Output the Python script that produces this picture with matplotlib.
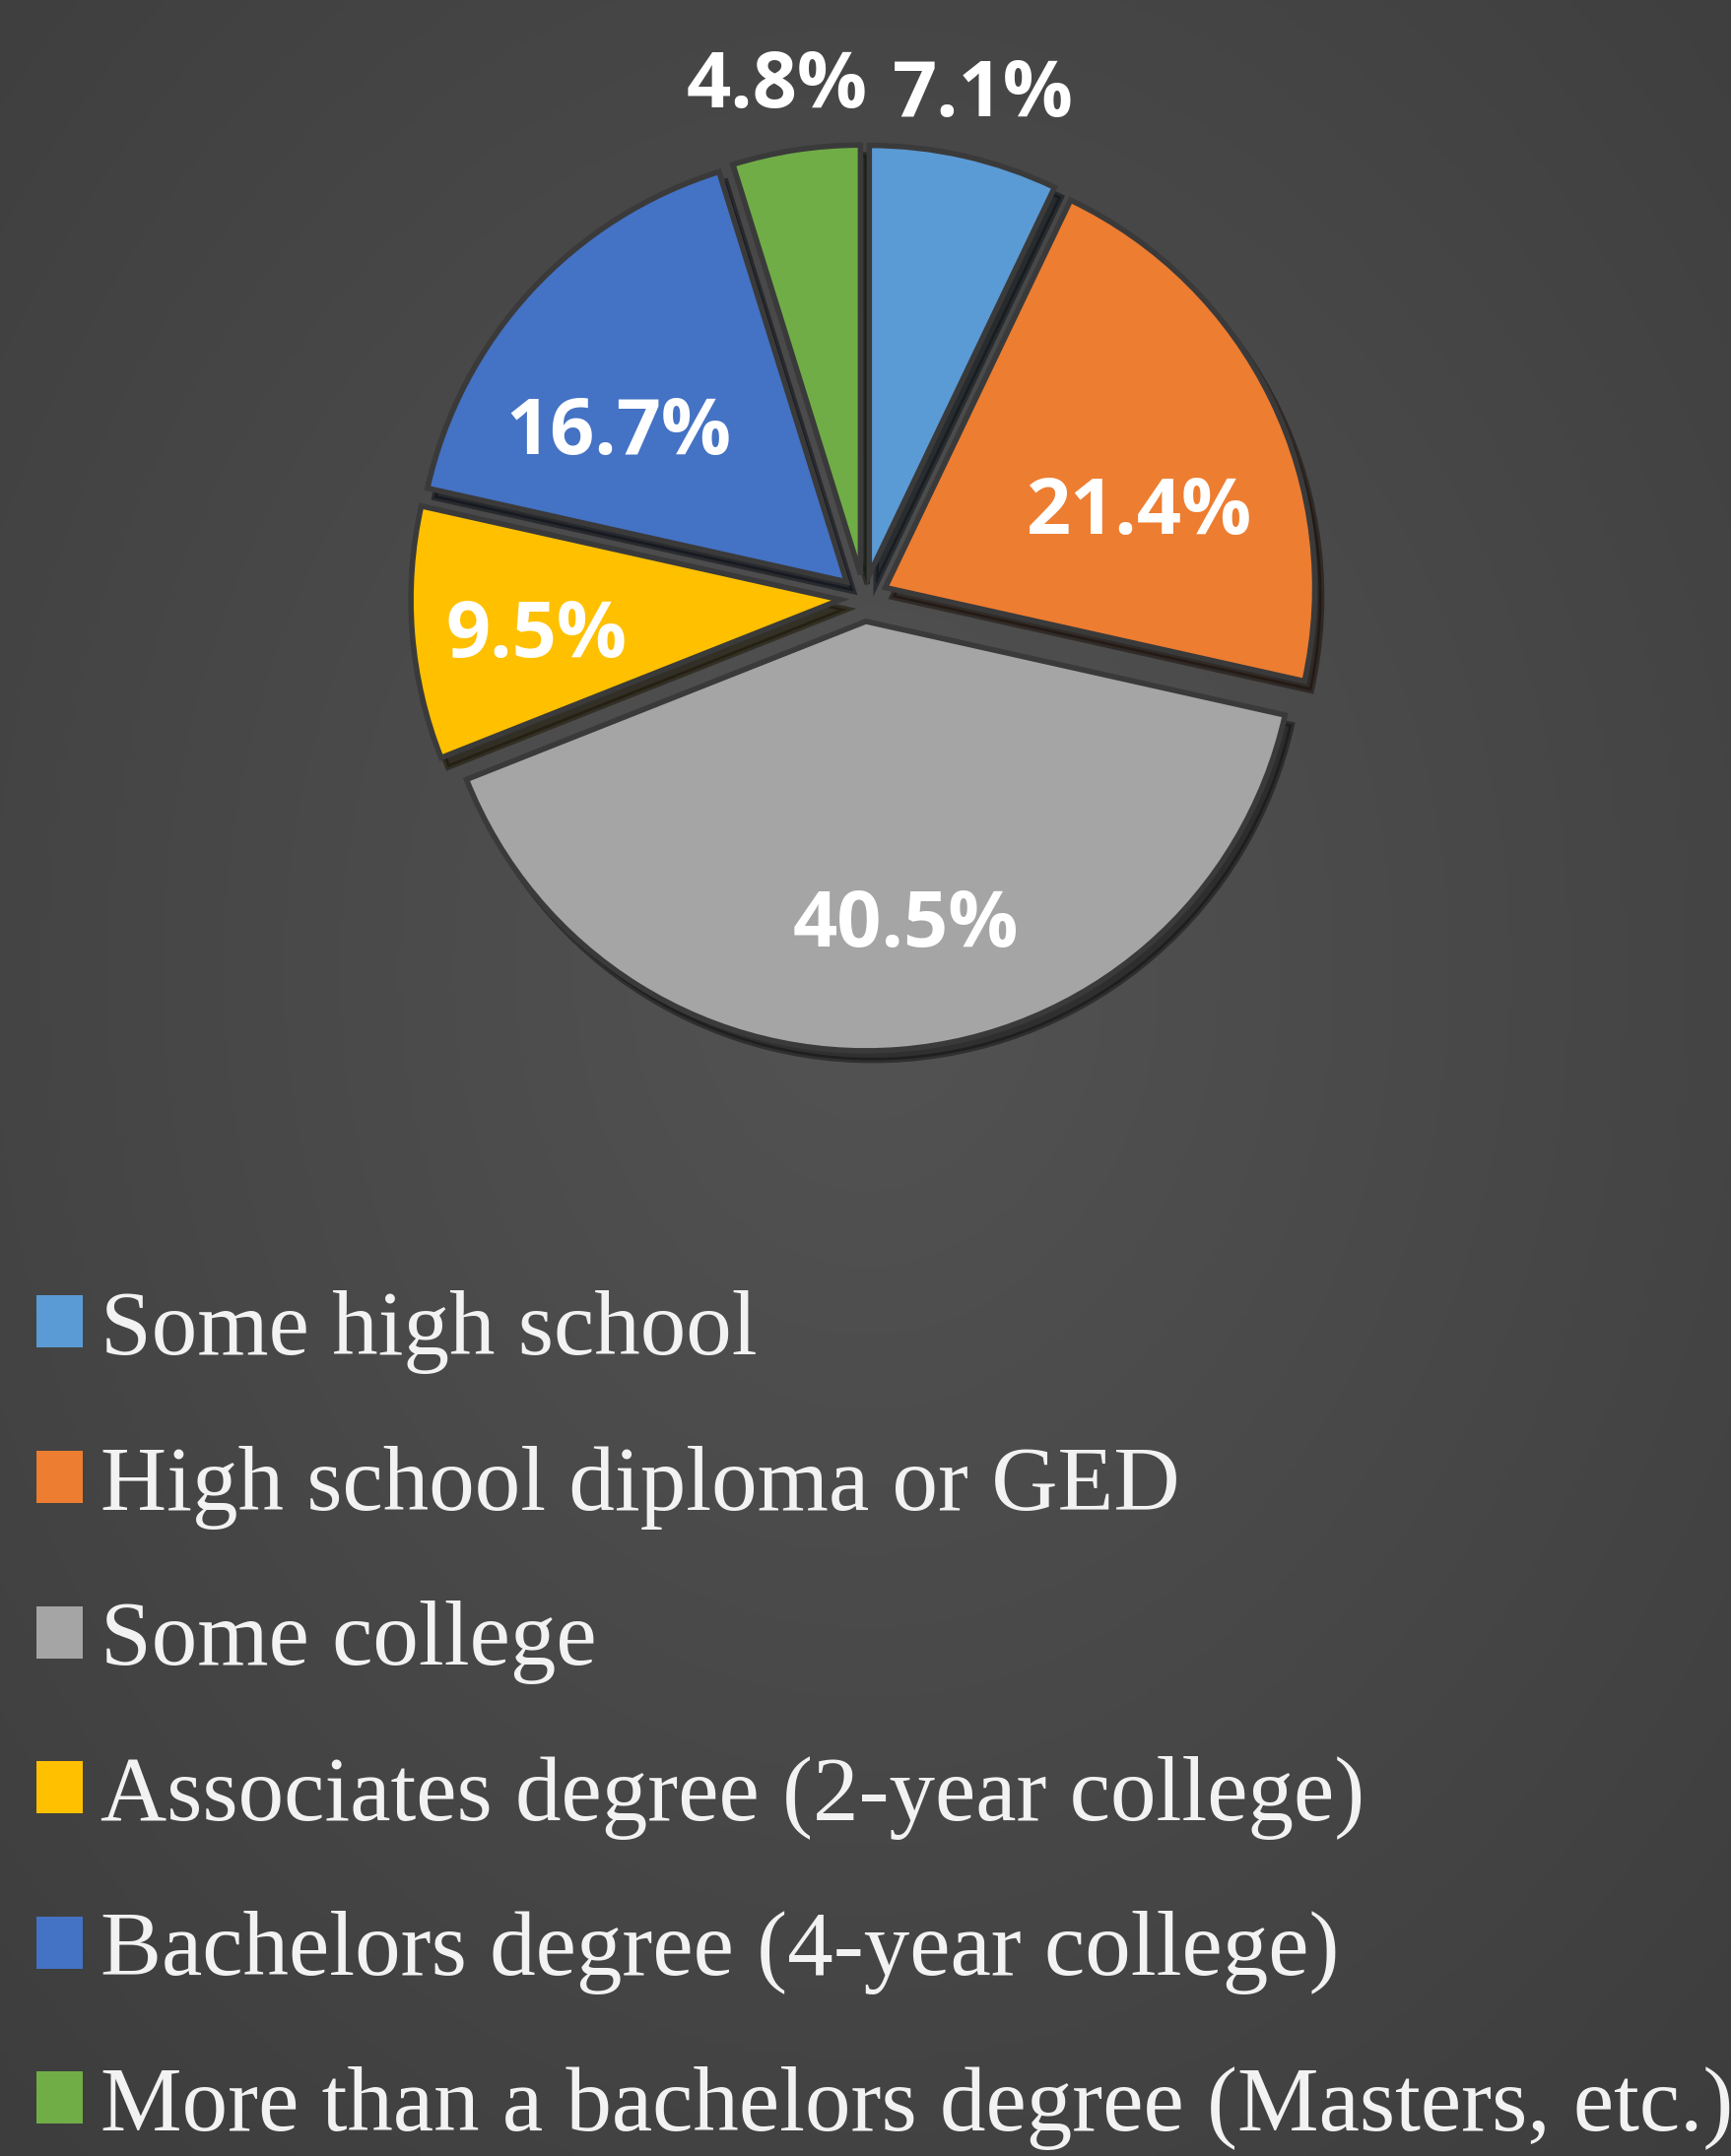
import numpy as np
import matplotlib
matplotlib.use("Agg")
import matplotlib.pyplot as plt
from matplotlib.colors import LinearSegmentedColormap

W, H = 1758, 2189
categories = ["Some high school", "High school diploma or GED", "Some college",
              "Associates degree (2-year college)", "Bachelors degree (4-year college)",
              "More than a bachelors degree (Masters, etc.)"]
shares = [7.1, 21.4, 40.5, 9.5, 16.7, 4.8]
colors = ["#5B9BD5", "#ED7D31", "#A5A5A5", "#FFC000", "#4472C4", "#70AD47"]
# label placement: distance (fraction of radius) and turn (deg) from wedge mid-angle
label_dist = [1.145, 0.615, 0.715, 0.712, 0.633, 1.152]
label_turn = [-0.6, -9.6, 2.9, 2.5, 9.6, 1.1]

fig = plt.figure(figsize=(W / 100, H / 100), dpi=100)
ax = fig.add_axes([0, 0, 1, 1])

# dark radial background
yy, xx = np.mgrid[0:H:4, 0:W:4]
d = np.hypot((xx - W * 0.5) / W, (yy - H * 0.45) / H)
bg = LinearSegmentedColormap.from_list("bg", ["#535353", "#3d3d3d"])
ax.imshow(d / d.max(), cmap=bg, extent=(0, W, 0, H), origin="upper", zorder=0, aspect="auto")

cx, cy, r = 877, H - 607, 436
# explode is in data units here (axes is in pixel units)
wedges, _ = ax.pie(shares, colors=colors, startangle=90, counterclock=False,
                   explode=[0.055 * r] * len(shares), center=(cx, cy), radius=r, frame=True,
                   shadow={"ox": 5, "oy": -7, "shade": 0.9},
                   wedgeprops={"linewidth": 4, "edgecolor": "#3a3a3a", "zorder": 2})

for w, v, k, t in zip(wedges, shares, label_dist, label_turn):
    th = np.deg2rad((w.theta1 + w.theta2) / 2 + t)
    x0, y0 = w.center
    ax.text(x0 + k * r * np.cos(th), y0 + k * r * np.sin(th), f"{v:.1f}%",
            ha="center", va="center", color="white", fontsize=57,
            fontfamily="Open Sans", fontweight="bold", zorder=5)

ax.set_xlim(0, W); ax.set_ylim(0, H); ax.set_aspect("equal")
ax.axis("off")

leg = fig.legend(wedges, categories, loc="upper left", bbox_to_anchor=(37 / W, 1 - 1310 / H),
                 frameon=False, borderpad=0, borderaxespad=0,
                 prop={"family": "Liberation Serif", "size": 67},
                 handlelength=0.5, handleheight=0.5, handletextpad=0.2,
                 labelspacing=0.78, labelcolor="#f2f2f2")
for h in leg.legend_handles:
    h.set_linewidth(0)

fig.savefig("out.png", dpi=100, facecolor="#474747")
